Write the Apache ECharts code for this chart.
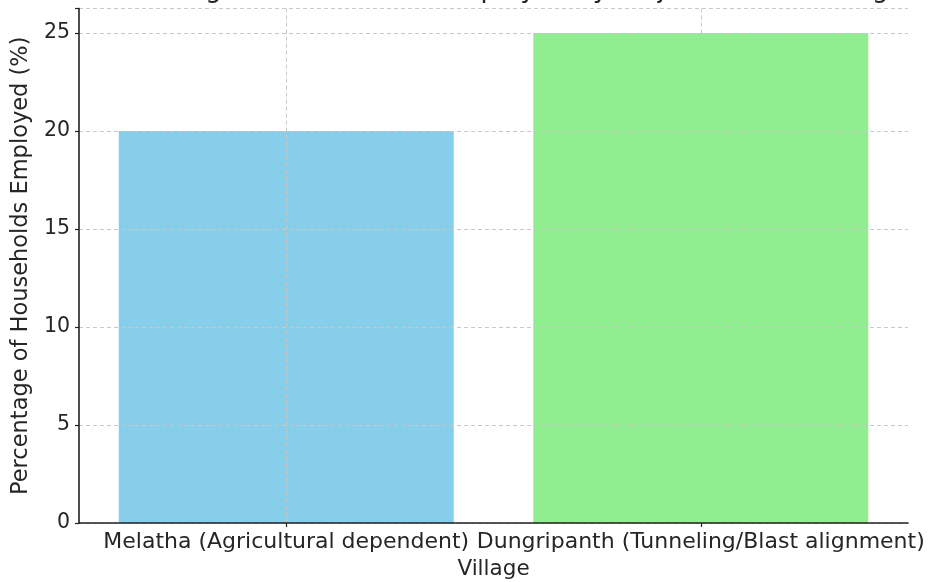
<!DOCTYPE html>
<html>
<head>
<meta charset="utf-8">
<script src="https://cdn.jsdelivr.net/npm/echarts@6/dist/echarts.min.js"></script>
<style>
  html, body { margin: 0; padding: 0; background: #ffffff; }
  #chart { width: 933px; height: 582px; }
</style>
</head>
<body>
<div id="chart"></div>
<script>
// Villages compared and share of their households employed (%)
const villages = [
  'Melatha (Agricultural dependent)',
  'Dungripanth (Tunneling/Blast alignment)'
];
const employedPct = [20, 25];
const barColors = ['#87CEEB', '#90EE90'];
const yTicks = [0, 5, 10, 15, 20, 25];

const font = 'DejaVu Sans';
const textColor = '#262626';
const gridLine = { show: true, lineStyle: { color: '#c8c8c8', type: [4, 3], width: 1 } };

const chart = echarts.init(document.getElementById('chart'), null, { renderer: 'canvas' });

chart.setOption({
  backgroundColor: '#ffffff',
  animation: false,
  title: {
    text: 'Percentage of Households Employed by Project in Each Village',
    left: 493,
    textAlign: 'center',
    top: -28,
    textStyle: { fontFamily: font, fontSize: 26, fontWeight: 'normal', color: textColor }
  },
  grid: { left: 79, right: 25, top: 8.6, bottom: 59, containLabel: false, outerBoundsMode: 'none' },
  xAxis: {
    type: 'category',
    data: villages,
    z: 5,
    name: 'Village',
    nameLocation: 'middle',
    nameGap: 35,
    nameTextStyle: { fontFamily: font, fontSize: 21.5, color: textColor },
    axisLine: { show: true, lineStyle: { color: '#222', width: 1.6 } },
    axisTick: { show: true, alignWithLabel: true, length: 4, lineStyle: { color: '#222', width: 1.2 } },
    axisLabel: { fontFamily: font, fontSize: 22, color: textColor, margin: 8, interval: 0, hideOverlap: false },
    splitLine: Object.assign({ alignWithLabel: true }, gridLine)
  },
  yAxis: {
    type: 'value',
    min: 0,
    max: 26.25,
    interval: 5,
    z: 5,
    name: 'Percentage of Households Employed (%)',
    nameLocation: 'middle',
    nameGap: 45,
    nameTextStyle: { fontFamily: font, fontSize: 22.5, color: textColor },
    axisLine: { show: true, lineStyle: { color: '#222', width: 1.6 } },
    axisTick: { show: true, length: 4, lineStyle: { color: '#222', width: 1.2 } },
    axisLabel: {
      fontFamily: font, fontSize: 20.5, color: textColor, margin: 9,
      formatter: function (v) { return yTicks.indexOf(v) >= 0 ? String(v) : ''; }
    },
    splitLine: gridLine
  },
  series: [{
    type: 'bar',
    barWidth: 335,
    z: 2,
    data: employedPct.map(function (v, i) {
      return { value: v, itemStyle: { color: barColors[i] } };
    })
  }]
});
</script>
</body>
</html>
